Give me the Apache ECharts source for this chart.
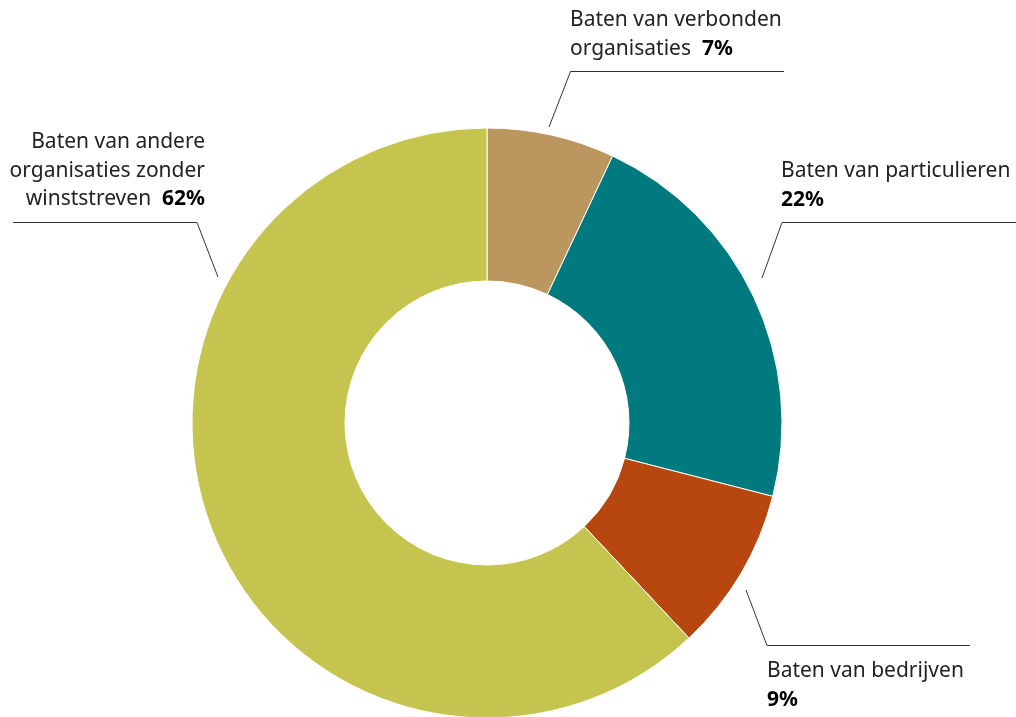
<!DOCTYPE html>
<html>
<head>
<meta charset="utf-8">
<title>Baten</title>
<script src="https://cdn.jsdelivr.net/npm/echarts@6/dist/echarts.min.js"></script>
<style>
  html, body { margin: 0; padding: 0; background: #fff; }
  #chart_box { width: 1016px; height: 717px; }
</style>
</head>
<body>
<div id="chart_box"></div>
<script>
// data (clockwise from 12 o'clock)
let categories = [
    'Baten van verbonden\norganisaties',
    'Baten van particulieren',
    'Baten van bedrijven',
    'Baten van andere\norganisaties zonder\nwinststreven'
];
let values = [7, 22, 9, 62];
let colors = ['#BC965F', '#007A7E', '#B8470F', '#C5C44F'];
// how the percentage follows the name
let pctSep = ['  ', '\n', '\n', '  '];

// label placement: text anchor + leader line points
let labelPos = [
    { x: 570, y: 6, align: 'left', line: [[549, 127], [570.5, 71.5], [784, 71.5]] },
    { x: 781, y: 157, align: 'left', line: [[762, 278], [782, 222.5], [1016, 222.5]] },
    { x: 767, y: 657, align: 'left', line: [[746, 590], [767, 645.5], [970, 645.5]] },
    { x: 205, y: 128, align: 'right', line: [[218, 277], [197, 222.5], [13, 222.5]] }
];

let myChart = echarts.init(document.getElementById('chart_box'));

let pieData = categories.map(function (name, i) {
    return { name: name, value: values[i], itemStyle: { color: colors[i] } };
});

let myOption = {
    animation: false,
    textStyle: { fontFamily: 'Noto Sans' },
    series: [{
        type: 'pie',
        center: [487, 423],
        radius: [142, 295],
        startAngle: 90,
        clockwise: true,
        avoidLabelOverlap: false,
        data: pieData,
        itemStyle: {
            borderColor: '#fff',
            borderWidth: 1
        },
        emphasis: { disabled: true },
        label: {
            show: true,
            position: 'outside',
            fontFamily: 'Noto Sans',
            fontSize: 21,
            lineHeight: 28.5,
            color: '#222',
            formatter: function (p) {
                return p.name + pctSep[p.dataIndex] + '{b|' + p.value + '%}';
            },
            rich: {
                b: {
                    fontFamily: 'Noto Sans',
                    fontSize: 21,
                    lineHeight: 28.5,
                    fontWeight: 'bold',
                    color: '#000'
                }
            }
        },
        labelLine: {
            show: true,
            lineStyle: { color: '#333', width: 1 }
        },
        labelLayout: function (params) {
            let pos = labelPos[params.dataIndex];
            return {
                x: pos.x,
                y: pos.y,
                align: pos.align,
                verticalAlign: 'top',
                labelLinePoints: pos.line
            };
        }
    }]
};

myChart.setOption(myOption);
</script>
</body>
</html>
